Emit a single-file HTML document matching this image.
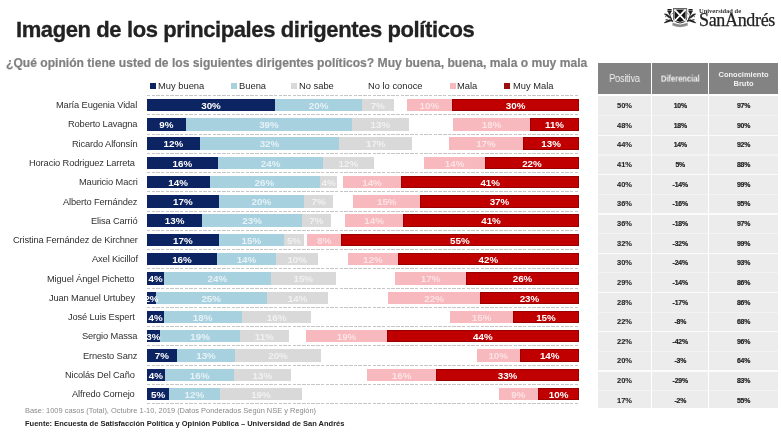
<!DOCTYPE html>
<html><head><meta charset="utf-8">
<style>
*{margin:0;padding:0;box-sizing:border-box}
html,body{width:781px;height:432px;overflow:hidden;background:#fff}
body{position:relative;font-family:"Liberation Sans",sans-serif}
.abs{position:absolute;white-space:nowrap}
#title,#sub,.lg,.nm,.sg,.th,.tc,.ft1,.ft2,.lt{will-change:transform}
#title{position:absolute;left:16px;top:18.1px;-webkit-text-stroke:0.3px #222;font-weight:bold;font-size:22px;letter-spacing:-0.4px;color:#222;white-space:nowrap;line-height:24px}
#sub{position:absolute;left:6.2px;top:56.1px;-webkit-text-stroke:0.2px #808080;font-weight:bold;font-size:12.1px;color:#808080;white-space:nowrap;line-height:14px}
.lg{position:absolute;top:80.8px;font-size:9.35px;color:#262626;white-space:nowrap;line-height:11px}
.sq{position:absolute;top:83.4px;width:6.3px;height:6px}
.nm{position:absolute;right:643.5px;font-size:9.3px;letter-spacing:-0.13px;color:#303030;white-space:nowrap;line-height:15px;text-align:right}
.sg{position:absolute;height:12.3px}
#plot{position:absolute;left:147.2px;top:0;width:431.6px;height:432px;overflow:hidden}
.lb{position:absolute;height:12.3px;line-height:13.6px;text-align:center;color:#fff;font-weight:bold;font-size:9.8px;white-space:nowrap;will-change:transform}
.l1{color:#e6f2f6} .l2{color:#f1f1f1} .l4{color:#fce3e5}
.c0{background:#0c2461}
.c1{background:#a8d1e0}
.c2{background:#d9d9d9}
.c4{background:#f7b9be}
.c5{background:#c00000;box-shadow:inset 0 0 0 0.7px #8e0000}
.dl{position:absolute;left:147px;width:432px;height:1px;background-image:repeating-linear-gradient(90deg,#c6c6c6 0 3.4px,transparent 3.4px 4.7px)}
#thead{position:absolute;left:598px;top:62.5px;width:179.5px;height:31px;background:#838383}
#tbody{position:absolute;left:598px;top:96px;width:179.5px;height:312.3px;background:#ececec}
.vs{position:absolute;top:62.5px;width:1.2px;height:346px;background:#fff}
.th{position:absolute;color:#f2f2f2;text-align:center;white-space:nowrap}
.tc{position:absolute;height:19.5px;line-height:19.5px;text-align:center;white-space:nowrap;font-weight:bold;color:#1e1e1e;-webkit-text-stroke:0.2px #1e1e1e}
.t1{left:598px;width:53px;font-size:7.5px;color:#2a2a2a;-webkit-text-stroke:0.1px #2a2a2a}
.t2{left:652px;width:56.5px;font-size:6.9px;letter-spacing:-0.2px}
.t3{left:709px;width:69px;font-size:6.9px;letter-spacing:-0.2px}
.ft1{position:absolute;left:25px;top:405.7px;font-size:7.45px;color:#8a8a8a;white-space:nowrap;line-height:10px}
.ft2{position:absolute;left:25px;top:418.6px;font-size:7.5px;font-weight:bold;color:#222;white-space:nowrap;line-height:10px}
</style></head><body>
<div id="title">Imagen de los principales dirigentes políticos</div>
<div id="sub">¿Qué opinión tiene usted de los siguientes dirigentes políticos? Muy buena, buena, mala o muy mala</div>

<div class="sq" style="left:150px;background:#0c2461"></div><div class="lg" style="left:158px">Muy buena</div>
<div class="sq" style="left:231px;background:#a8d1e0"></div><div class="lg" style="left:239px">Buena</div>
<div class="sq" style="left:291px;background:#d9d9d9"></div><div class="lg" style="left:299px">No sabe</div>
<div class="lg" style="left:368px">No lo conoce</div>
<div class="sq" style="left:449.5px;background:#f7b9be"></div><div class="lg" style="left:457px">Mala</div>
<div class="sq" style="left:504px;background:#9b0f0f"></div><div class="lg" style="left:512.5px">Muy Mala</div>

<div class="nm" style="top:98.2px;right:643.5px">María Eugenia Vidal</div>
<div class="sg c0" style="left:147px;top:99px;width:128px;height:12px"></div>
<div class="sg c1" style="left:275px;top:99px;width:87px;height:12px"></div>
<div class="sg c2" style="left:362px;top:99px;width:32px;height:12px"></div>
<div class="sg c4" style="left:407px;top:99px;width:45px;height:12px"></div>
<div class="sg c5" style="left:452px;top:99px;width:127px;height:12px"></div>
<div class="nm" style="top:117.46px;right:643.5px">Roberto Lavagna</div>
<div class="sg c0" style="left:147px;top:118px;width:39px;height:13px"></div>
<div class="sg c1" style="left:186px;top:118px;width:166px;height:13px"></div>
<div class="sg c2" style="left:352px;top:118px;width:57px;height:13px"></div>
<div class="sg c4" style="left:453px;top:118px;width:77px;height:13px"></div>
<div class="sg c5" style="left:530px;top:118px;width:49px;height:13px"></div>
<div class="nm" style="top:136.72px;right:643.5px">Ricardo Alfonsín</div>
<div class="sg c0" style="left:147px;top:137px;width:53px;height:13px"></div>
<div class="sg c1" style="left:200px;top:137px;width:139px;height:13px"></div>
<div class="sg c2" style="left:339px;top:137px;width:73px;height:13px"></div>
<div class="sg c4" style="left:449px;top:137px;width:74px;height:13px"></div>
<div class="sg c5" style="left:523px;top:137px;width:56px;height:13px"></div>
<div class="nm" style="top:155.98px;right:646.4px">Horacio Rodriguez Larreta</div>
<div class="sg c0" style="left:147px;top:157px;width:71px;height:12px"></div>
<div class="sg c1" style="left:218px;top:157px;width:105px;height:12px"></div>
<div class="sg c2" style="left:323px;top:157px;width:51px;height:12px"></div>
<div class="sg c4" style="left:424px;top:157px;width:61px;height:12px"></div>
<div class="sg c5" style="left:485px;top:157px;width:94px;height:12px"></div>
<div class="nm" style="top:175.24px;right:643.5px">Mauricio Macri</div>
<div class="sg c0" style="left:147px;top:176px;width:63px;height:12px"></div>
<div class="sg c1" style="left:210px;top:176px;width:110px;height:12px"></div>
<div class="sg c2" style="left:320px;top:176px;width:17px;height:12px"></div>
<div class="sg c4" style="left:343px;top:176px;width:58px;height:12px"></div>
<div class="sg c5" style="left:401px;top:176px;width:178px;height:12px"></div>
<div class="nm" style="top:194.5px;right:643.5px">Alberto Fernández</div>
<div class="sg c0" style="left:147px;top:195px;width:72px;height:13px"></div>
<div class="sg c1" style="left:219px;top:195px;width:85px;height:13px"></div>
<div class="sg c2" style="left:304px;top:195px;width:29px;height:13px"></div>
<div class="sg c4" style="left:353px;top:195px;width:67px;height:13px"></div>
<div class="sg c5" style="left:420px;top:195px;width:159px;height:13px"></div>
<div class="nm" style="top:213.76px;right:643.5px">Elisa Carrió</div>
<div class="sg c0" style="left:147px;top:214px;width:55px;height:13px"></div>
<div class="sg c1" style="left:202px;top:214px;width:100px;height:13px"></div>
<div class="sg c2" style="left:302px;top:214px;width:29px;height:13px"></div>
<div class="sg c4" style="left:345px;top:214px;width:58px;height:13px"></div>
<div class="sg c5" style="left:403px;top:214px;width:176px;height:13px"></div>
<div class="nm" style="top:233.02px;right:643.5px">Cristina Fernández de Kirchner</div>
<div class="sg c0" style="left:147px;top:234px;width:72px;height:12px"></div>
<div class="sg c1" style="left:219px;top:234px;width:65px;height:12px"></div>
<div class="sg c2" style="left:284px;top:234px;width:20px;height:12px"></div>
<div class="sg c4" style="left:307px;top:234px;width:34px;height:12px"></div>
<div class="sg c5" style="left:341px;top:234px;width:238px;height:12px"></div>
<div class="nm" style="top:252.28px;right:643.5px">Axel Kicillof</div>
<div class="sg c0" style="left:147px;top:253px;width:70px;height:12px"></div>
<div class="sg c1" style="left:217px;top:253px;width:59px;height:12px"></div>
<div class="sg c2" style="left:276px;top:253px;width:42px;height:12px"></div>
<div class="sg c4" style="left:348px;top:253px;width:50px;height:12px"></div>
<div class="sg c5" style="left:398px;top:253px;width:181px;height:12px"></div>
<div class="nm" style="top:271.54px;right:646.4px">Miguel Ángel Pichetto</div>
<div class="sg c0" style="left:147px;top:272px;width:17px;height:13px"></div>
<div class="sg c1" style="left:164px;top:272px;width:107px;height:13px"></div>
<div class="sg c2" style="left:271px;top:272px;width:65px;height:13px"></div>
<div class="sg c4" style="left:395px;top:272px;width:71px;height:13px"></div>
<div class="sg c5" style="left:466px;top:272px;width:113px;height:13px"></div>
<div class="nm" style="top:290.8px;right:646.4px">Juan Manuel Urtubey</div>
<div class="sg c0" style="left:147px;top:292px;width:9px;height:12px"></div>
<div class="sg c1" style="left:156px;top:292px;width:111px;height:12px"></div>
<div class="sg c2" style="left:267px;top:292px;width:61px;height:12px"></div>
<div class="sg c4" style="left:388px;top:292px;width:92px;height:12px"></div>
<div class="sg c5" style="left:480px;top:292px;width:99px;height:12px"></div>
<div class="nm" style="top:310.06px;right:646.4px">José Luis Espert</div>
<div class="sg c0" style="left:147px;top:311px;width:17px;height:12px"></div>
<div class="sg c1" style="left:164px;top:311px;width:78px;height:12px"></div>
<div class="sg c2" style="left:242px;top:311px;width:69px;height:12px"></div>
<div class="sg c4" style="left:450px;top:311px;width:63px;height:12px"></div>
<div class="sg c5" style="left:513px;top:311px;width:66px;height:12px"></div>
<div class="nm" style="top:329.32px;right:643.5px">Sergio Massa</div>
<div class="sg c0" style="left:147px;top:330px;width:13px;height:12px"></div>
<div class="sg c1" style="left:160px;top:330px;width:80px;height:12px"></div>
<div class="sg c2" style="left:240px;top:330px;width:49px;height:12px"></div>
<div class="sg c4" style="left:306px;top:330px;width:81px;height:12px"></div>
<div class="sg c5" style="left:387px;top:330px;width:192px;height:12px"></div>
<div class="nm" style="top:348.58px;right:643.5px">Ernesto Sanz</div>
<div class="sg c0" style="left:147px;top:349px;width:30px;height:13px"></div>
<div class="sg c1" style="left:177px;top:349px;width:58px;height:13px"></div>
<div class="sg c2" style="left:235px;top:349px;width:86px;height:13px"></div>
<div class="sg c4" style="left:477px;top:349px;width:43px;height:13px"></div>
<div class="sg c5" style="left:520px;top:349px;width:59px;height:13px"></div>
<div class="nm" style="top:367.84px;right:646.4px">Nicolás Del Caño</div>
<div class="sg c0" style="left:147px;top:369px;width:18px;height:12px"></div>
<div class="sg c1" style="left:165px;top:369px;width:69px;height:12px"></div>
<div class="sg c2" style="left:234px;top:369px;width:57px;height:12px"></div>
<div class="sg c4" style="left:367px;top:369px;width:69px;height:12px"></div>
<div class="sg c5" style="left:436px;top:369px;width:143px;height:12px"></div>
<div class="nm" style="top:387.1px;right:646.4px">Alfredo Cornejo</div>
<div class="sg c0" style="left:147px;top:388px;width:22px;height:12px"></div>
<div class="sg c1" style="left:169px;top:388px;width:51px;height:12px"></div>
<div class="sg c2" style="left:220px;top:388px;width:82px;height:12px"></div>
<div class="sg c4" style="left:499px;top:388px;width:39px;height:12px"></div>
<div class="sg c5" style="left:538px;top:388px;width:41px;height:12px"></div>
<div class="dl" style="top:95px"></div>
<div class="dl" style="top:114.26px"></div>
<div class="dl" style="top:133.52px"></div>
<div class="dl" style="top:152.78px"></div>
<div class="dl" style="top:172.04px"></div>
<div class="dl" style="top:191.3px"></div>
<div class="dl" style="top:210.56px"></div>
<div class="dl" style="top:229.82px"></div>
<div class="dl" style="top:249.08px"></div>
<div class="dl" style="top:268.34px"></div>
<div class="dl" style="top:287.6px"></div>
<div class="dl" style="top:306.86px"></div>
<div class="dl" style="top:326.12px"></div>
<div class="dl" style="top:345.38px"></div>
<div class="dl" style="top:364.64px"></div>
<div class="dl" style="top:383.9px"></div>
<div class="dl" style="top:403.16px"></div>
<div id="plot"><div class="lb l0" style="left:-20px;top:98.9px;width:168px">30%</div>
<div class="lb l1" style="left:108px;top:98.9px;width:127.2px">20%</div>
<div class="lb l2" style="left:195.2px;top:98.9px;width:71.5px">7%</div>
<div class="lb l4" style="left:239.9px;top:98.9px;width:84.8px">10%</div>
<div class="lb l5" style="left:284.7px;top:98.9px;width:167.1px">30%</div>
<div class="lb l0" style="left:-20px;top:118.16px;width:78.7px">9%</div>
<div class="lb l1" style="left:18.7px;top:118.16px;width:205.9px">39%</div>
<div class="lb l2" style="left:184.6px;top:118.16px;width:96.8px">13%</div>
<div class="lb l4" style="left:285.6px;top:118.16px;width:117.1px">18%</div>
<div class="lb l5" style="left:362.7px;top:118.16px;width:89.1px">11%</div>
<div class="lb l0" style="left:-20px;top:137.42px;width:92.8px">12%</div>
<div class="lb l1" style="left:32.8px;top:137.42px;width:178.9px">32%</div>
<div class="lb l2" style="left:171.7px;top:137.42px;width:113.5px">17%</div>
<div class="lb l4" style="left:281.7px;top:137.42px;width:113.9px">17%</div>
<div class="lb l5" style="left:355.6px;top:137.42px;width:96.2px">13%</div>
<div class="lb l0" style="left:-20px;top:156.68px;width:110.8px">16%</div>
<div class="lb l1" style="left:50.8px;top:156.68px;width:145.1px">24%</div>
<div class="lb l2" style="left:155.9px;top:156.68px;width:90.7px">12%</div>
<div class="lb l4" style="left:256.7px;top:156.68px;width:101.2px">14%</div>
<div class="lb l5" style="left:317.9px;top:156.68px;width:133.9px">22%</div>
<div class="lb l0" style="left:-20px;top:175.94px;width:102.3px">14%</div>
<div class="lb l1" style="left:42.3px;top:175.94px;width:150.7px">26%</div>
<div class="lb l2" style="left:153px;top:175.94px;width:57.1px">4%</div>
<div class="lb l4" style="left:175.4px;top:175.94px;width:98px">14%</div>
<div class="lb l5" style="left:233.4px;top:175.94px;width:218.4px">41%</div>
<div class="lb l0" style="left:-20px;top:195.2px;width:111.7px">17%</div>
<div class="lb l1" style="left:51.7px;top:195.2px;width:124.8px">20%</div>
<div class="lb l2" style="left:136.5px;top:195.2px;width:69.2px">7%</div>
<div class="lb l4" style="left:185.4px;top:195.2px;width:107.5px">15%</div>
<div class="lb l5" style="left:252.9px;top:195.2px;width:198.9px">37%</div>
<div class="lb l0" style="left:-20px;top:214.46px;width:95.2px">13%</div>
<div class="lb l1" style="left:35.2px;top:214.46px;width:140.1px">23%</div>
<div class="lb l2" style="left:135.3px;top:214.46px;width:68.9px">7%</div>
<div class="lb l4" style="left:177.5px;top:214.46px;width:98.3px">14%</div>
<div class="lb l5" style="left:235.8px;top:214.46px;width:216px">41%</div>
<div class="lb l0" style="left:-20px;top:233.72px;width:111.7px">17%</div>
<div class="lb l1" style="left:51.7px;top:233.72px;width:104.8px">15%</div>
<div class="lb l2" style="left:116.5px;top:233.72px;width:60px">5%</div>
<div class="lb l4" style="left:139.5px;top:233.72px;width:74.7px">8%</div>
<div class="lb l5" style="left:174.2px;top:233.72px;width:277.6px">55%</div>
<div class="lb l0" style="left:-20px;top:252.98px;width:109.9px">16%</div>
<div class="lb l1" style="left:49.9px;top:252.98px;width:98.9px">14%</div>
<div class="lb l2" style="left:108.8px;top:252.98px;width:82.4px">10%</div>
<div class="lb l4" style="left:181.3px;top:252.98px;width:89.8px">12%</div>
<div class="lb l5" style="left:231.1px;top:252.98px;width:220.7px">42%</div>
<div class="lb l0" style="left:-20px;top:272.24px;width:57.2px">4%</div>
<div class="lb l1" style="left:-2.8px;top:272.24px;width:146.6px">24%</div>
<div class="lb l2" style="left:103.8px;top:272.24px;width:104.5px">15%</div>
<div class="lb l4" style="left:227.5px;top:272.24px;width:111.3px">17%</div>
<div class="lb l5" style="left:298.8px;top:272.24px;width:153px">26%</div>
<div class="lb l0" style="left:-20px;top:291.5px;width:49px">2%</div>
<div class="lb l1" style="left:-11px;top:291.5px;width:150.4px">25%</div>
<div class="lb l2" style="left:99.4px;top:291.5px;width:101.3px">14%</div>
<div class="lb l4" style="left:220.8px;top:291.5px;width:132.1px">22%</div>
<div class="lb l5" style="left:312.9px;top:291.5px;width:138.9px">23%</div>
<div class="lb l0" style="left:-20px;top:310.76px;width:57.2px">4%</div>
<div class="lb l1" style="left:-2.8px;top:310.76px;width:117.2px">18%</div>
<div class="lb l2" style="left:74.4px;top:310.76px;width:109.2px">16%</div>
<div class="lb l4" style="left:282.6px;top:310.76px;width:103.3px">15%</div>
<div class="lb l5" style="left:345.9px;top:310.76px;width:105.9px">15%</div>
<div class="lb l0" style="left:-20px;top:330.02px;width:52.8px">3%</div>
<div class="lb l1" style="left:-7.2px;top:330.02px;width:120.1px">19%</div>
<div class="lb l2" style="left:72.9px;top:330.02px;width:88.6px">11%</div>
<div class="lb l4" style="left:139.2px;top:330.02px;width:121px">19%</div>
<div class="lb l5" style="left:220.2px;top:330.02px;width:231.6px">44%</div>
<div class="lb l0" style="left:-20px;top:349.28px;width:69.9px">7%</div>
<div class="lb l1" style="left:9.9px;top:349.28px;width:98px">13%</div>
<div class="lb l2" style="left:67.9px;top:349.28px;width:126px">20%</div>
<div class="lb l4" style="left:310px;top:349.28px;width:82.4px">10%</div>
<div class="lb l5" style="left:352.4px;top:349.28px;width:99.4px">14%</div>
<div class="lb l0" style="left:-20px;top:368.54px;width:57.8px">4%</div>
<div class="lb l1" style="left:-2.2px;top:368.54px;width:109.2px">16%</div>
<div class="lb l2" style="left:67px;top:368.54px;width:96.6px">13%</div>
<div class="lb l4" style="left:199.5px;top:368.54px;width:109.3px">16%</div>
<div class="lb l5" style="left:268.8px;top:368.54px;width:183px">33%</div>
<div class="lb l0" style="left:-20px;top:387.8px;width:62.2px">5%</div>
<div class="lb l1" style="left:2.2px;top:387.8px;width:90.7px">12%</div>
<div class="lb l2" style="left:52.9px;top:387.8px;width:121.9px">19%</div>
<div class="lb l4" style="left:331.8px;top:387.8px;width:78.9px">9%</div>
<div class="lb l5" style="left:370.7px;top:387.8px;width:81.1px">10%</div></div>

<div id="thead"></div>
<div id="tbody"></div>
<div class="tc t1" style="top:96.2px">50%</div><div class="tc t2" style="top:96.2px">10%</div><div class="tc t3" style="top:96.2px">97%</div>
<div style="position:absolute;left:598px;width:179.5px;top:115.23px;height:1.2px;background:rgba(255,255,255,0.4)"></div>
<div class="tc t1" style="top:115.83px">48%</div><div class="tc t2" style="top:115.83px">18%</div><div class="tc t3" style="top:115.83px">90%</div>
<div style="position:absolute;left:598px;width:179.5px;top:134.86px;height:1.2px;background:rgba(255,255,255,0.8)"></div>
<div class="tc t1" style="top:135.46px">44%</div><div class="tc t2" style="top:135.46px">14%</div><div class="tc t3" style="top:135.46px">92%</div>
<div style="position:absolute;left:598px;width:179.5px;top:154.49px;height:1.2px;background:rgba(255,255,255,0.4)"></div>
<div class="tc t1" style="top:155.09px">41%</div><div class="tc t2" style="top:155.09px">5%</div><div class="tc t3" style="top:155.09px">88%</div>
<div style="position:absolute;left:598px;width:179.5px;top:174.12px;height:1.2px;background:rgba(255,255,255,0.8)"></div>
<div class="tc t1" style="top:174.72px">40%</div><div class="tc t2" style="top:174.72px">-14%</div><div class="tc t3" style="top:174.72px">99%</div>
<div style="position:absolute;left:598px;width:179.5px;top:193.75px;height:1.2px;background:rgba(255,255,255,0.4)"></div>
<div class="tc t1" style="top:194.35px">36%</div><div class="tc t2" style="top:194.35px">-16%</div><div class="tc t3" style="top:194.35px">95%</div>
<div style="position:absolute;left:598px;width:179.5px;top:213.38px;height:1.2px;background:rgba(255,255,255,0.8)"></div>
<div class="tc t1" style="top:213.98px">36%</div><div class="tc t2" style="top:213.98px">-18%</div><div class="tc t3" style="top:213.98px">97%</div>
<div style="position:absolute;left:598px;width:179.5px;top:233.01px;height:1.2px;background:rgba(255,255,255,0.4)"></div>
<div class="tc t1" style="top:233.61px">32%</div><div class="tc t2" style="top:233.61px">-32%</div><div class="tc t3" style="top:233.61px">99%</div>
<div style="position:absolute;left:598px;width:179.5px;top:252.64px;height:1.2px;background:rgba(255,255,255,0.8)"></div>
<div class="tc t1" style="top:253.24px">30%</div><div class="tc t2" style="top:253.24px">-24%</div><div class="tc t3" style="top:253.24px">93%</div>
<div style="position:absolute;left:598px;width:179.5px;top:272.27px;height:1.2px;background:rgba(255,255,255,0.4)"></div>
<div class="tc t1" style="top:272.87px">29%</div><div class="tc t2" style="top:272.87px">-14%</div><div class="tc t3" style="top:272.87px">86%</div>
<div style="position:absolute;left:598px;width:179.5px;top:291.9px;height:1.2px;background:rgba(255,255,255,0.8)"></div>
<div class="tc t1" style="top:292.5px">28%</div><div class="tc t2" style="top:292.5px">-17%</div><div class="tc t3" style="top:292.5px">86%</div>
<div style="position:absolute;left:598px;width:179.5px;top:311.53px;height:1.2px;background:rgba(255,255,255,0.4)"></div>
<div class="tc t1" style="top:312.13px">22%</div><div class="tc t2" style="top:312.13px">-8%</div><div class="tc t3" style="top:312.13px">68%</div>
<div style="position:absolute;left:598px;width:179.5px;top:331.16px;height:1.2px;background:rgba(255,255,255,0.8)"></div>
<div class="tc t1" style="top:331.76px">22%</div><div class="tc t2" style="top:331.76px">-42%</div><div class="tc t3" style="top:331.76px">96%</div>
<div style="position:absolute;left:598px;width:179.5px;top:350.79px;height:1.2px;background:rgba(255,255,255,0.4)"></div>
<div class="tc t1" style="top:351.39px">20%</div><div class="tc t2" style="top:351.39px">-3%</div><div class="tc t3" style="top:351.39px">64%</div>
<div style="position:absolute;left:598px;width:179.5px;top:370.42px;height:1.2px;background:rgba(255,255,255,0.8)"></div>
<div class="tc t1" style="top:371.02px">20%</div><div class="tc t2" style="top:371.02px">-29%</div><div class="tc t3" style="top:371.02px">83%</div>
<div style="position:absolute;left:598px;width:179.5px;top:390.05px;height:1.2px;background:rgba(255,255,255,0.4)"></div>
<div class="tc t1" style="top:390.65px">17%</div><div class="tc t2" style="top:390.65px">-2%</div><div class="tc t3" style="top:390.65px">55%</div>
<div class="vs" style="left:651px"></div>
<div class="vs" style="left:708.2px"></div>
<div style="position:absolute;left:598px;top:93.5px;width:179.5px;height:2.5px;background:#fff"></div>
<div class="th" style="left:598px;width:53px;top:71px;font-size:10.6px;line-height:14px;letter-spacing:-0.2px;transform:scaleX(0.86)">Positiva</div>
<div class="th" style="left:652px;width:56.5px;top:73px;font-size:8.5px;line-height:11px;font-weight:bold;transform:scaleX(0.89) translateY(0.6px)">Diferencial</div>
<div class="th" style="left:709px;width:69px;top:69.5px;font-size:7.5px;line-height:9.2px;font-weight:bold">Conocimiento<br>Bruto</div>

<div class="ft1">Base: 1009 casos (Total), Octubre 1-10, 2019 (Datos Ponderados Según NSE y Región)</div>
<div class="ft2">Fuente: Encuesta de Satisfacción Política y Opinión Pública – Universidad de San Andrés</div>

<!-- logo -->
<div class="lt" style="position:absolute;left:699.4px;top:6.6px;font-family:'Liberation Serif',serif;font-size:6.5px;font-weight:bold;color:#333;white-space:nowrap;line-height:8px">Universidad de</div>
<div class="lt" style="position:absolute;left:699px;top:10.6px;font-family:'Liberation Serif',serif;font-size:18px;letter-spacing:-0.33px;-webkit-text-stroke:0.25px #222;color:#222;white-space:nowrap;line-height:18px">SanAndrés</div>
<svg style="position:absolute;left:660px;top:4px" width="40" height="26" viewBox="660 4 40 26">
  <path d="M672.6 22.6 Q680.1 26.2 687.6 22.6 L687.9 25.4 Q680.1 29 672.3 25.4 Z" fill="#9a9a9a"/>
  <path d="M673.3 24.2 Q680.1 27 686.9 24.2" fill="none" stroke="#666" stroke-width="0.5"/>
  <path d="M673 8.2 H687.1 V17.4 Q687.1 22.2 680.05 23.4 Q673 22.2 673 17.4 Z" fill="#333"/>
  <path d="M673.7 8.9 H686.4 V17.3 Q686.4 21.6 680.05 22.6 Q673.7 21.6 673.7 17.3 Z" fill="#fff"/>
  <path d="M674.5 9.6 H685.6 V17.2 Q685.6 21 680.05 21.9 Q674.5 21 674.5 17.2 Z" fill="#151515"/>
  <path d="M674.6 9.7 L685.5 21 M685.5 9.7 L674.6 21" stroke="#fff" stroke-width="1.8"/>
  <g id="th" fill="#1e1e1e" stroke="#1e1e1e">
    <rect x="667.5" y="9" width="4.1" height="3.1" stroke="none"/>
    <path d="M667.5 10.5 H671.6" stroke="#e8e8e8" stroke-width="0.45"/>
    <path d="M668 12.1 H671.1 L670.2 14.2 H668.9 Z" stroke="none"/>
    <path d="M669.6 14 Q670.6 18 672.6 22" fill="none" stroke-width="0.9"/>
    <path d="M664.2 13.9 Q666.8 13.4 668.8 15.4 Q670.6 17.2 672 18.6 Q669 18.6 667.4 16.8 Q665.8 15 664.2 13.9 Z" stroke-width="0.35"/>
    <path d="M664 23 Q666.8 19.8 670 19.4 Q671.8 19.4 673.2 21 Q670.4 21 668.2 21.9 Q666 22.8 664 23 Z" stroke-width="0.35"/>
    <path d="M665.4 19.8 L667.8 19.3 M666.4 15.6 L665.3 17.1 M671.6 14.2 L672.6 13.4" fill="none" stroke-width="0.7"/>
  </g>
  <use href="#th" transform="translate(1360.1 0) scale(-1 1)"/>
</svg>
</body></html>
